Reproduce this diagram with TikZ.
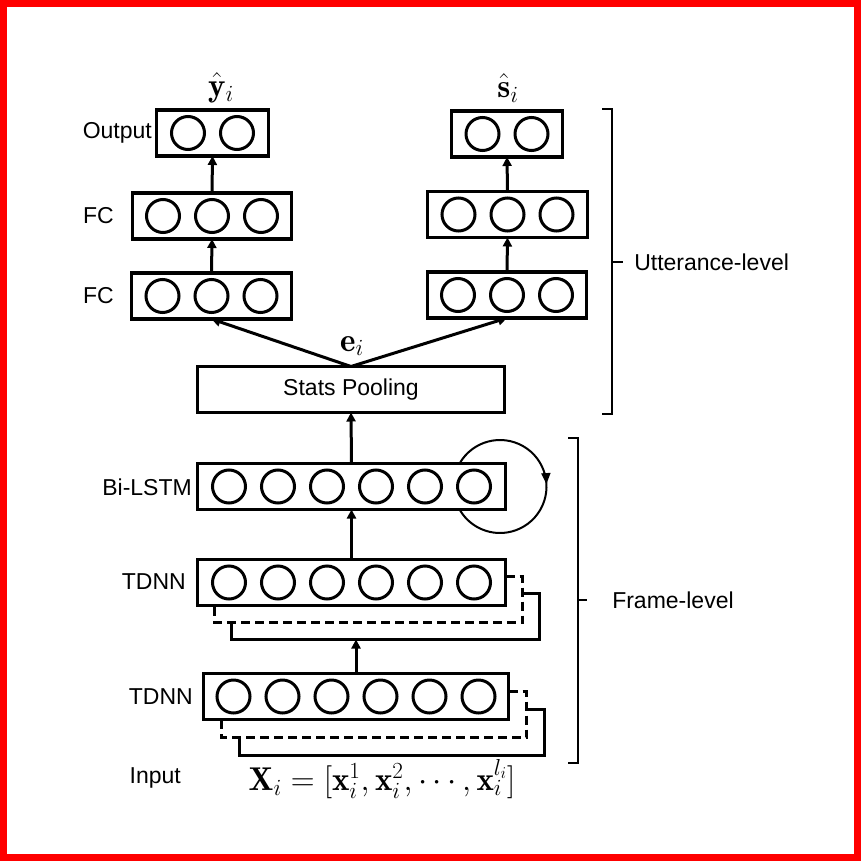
\RequirePackage{fix-cm}
\documentclass[tikz,border=0pt]{standalone}
\usepackage{fontspec}
\newfontfamily\labfont{Liberation Sans}
\usetikzlibrary{arrows.meta,calc,decorations.markings,backgrounds}
\begin{document}
\begin{tikzpicture}[x=1pt,y=-1pt,
  layer/.style={draw, line width=3.5pt, fill=white, inner sep=0pt, outer sep=0pt, minimum height=46pt},
  neuron/.style={circle, draw, line width=3pt, minimum size=33pt, inner sep=0pt},
  arr/.style={line width=3pt, -{Triangle[length=9pt,width=9pt]}},
  lab/.style={font=\labfont\fontsize{23}{26}\selectfont, inner sep=0pt},
  mathlab/.style={font=\fontsize{33}{37}\selectfont, inner sep=0pt},
  shadowdash/.style={line width=3.5pt, dash pattern=on 9pt off 5pt},
  shadowsolid/.style={line width=3.5pt},
  brace/.style={line width=2.5pt},
  loopline/.style={line width=2pt, postaction={decorate},
    decoration={markings, mark=at position 0.49 with {\arrow{Triangle[length=11pt,width=9pt]}}}},
]
\useasboundingbox (0,0) rectangle (861,861);
\draw[red, line width=7pt] (3.5,3.5) rectangle (857.5,857.5);

% utterance-level, left branch
\node[layer, minimum width=112pt] (outL) at (212.5,133) {};
\node[layer, minimum width=159pt] (fc1L) at (212,216) {};
\node[layer, minimum width=160pt] (fc2L) at (211.5,296) {};
% right branch
\node[layer, minimum width=111pt] (outR) at (507,134) {};
\node[layer, minimum width=160pt] (fc1R) at (507.5,214.5) {};
\node[layer, minimum width=159pt] (fc2R) at (507,295) {};

\foreach \b in {outL,outR}
  \foreach \k/\dx in {1/-24.5,2/24.5}
    \node[neuron] (\b n\k) at ($(\b.center)+(\dx,0)$) {};
\foreach \b in {fc1L,fc2L,fc1R,fc2R}
  \foreach \k/\dx in {1/-49,2/0,3/49}
    \node[neuron] (\b n\k) at ($(\b.center)+(\dx,0)$) {};

\node[layer, lab, minimum width=307pt] (stats) at (351,389.5) {Stats Pooling};

% frame-level
\node[layer, minimum width=308pt] (lstm) at (351.5,486.5) {};
\node[layer, minimum width=308pt] (t2) at (351.5,582.5) {};
\node[layer, minimum width=305pt] (t1) at (356,696.5) {};
\foreach \b in {lstm,t2,t1}
  \foreach \k/\dx in {1/-122.5,2/-73.5,3/-24.5,4/24.5,5/73.5,6/122.5}
    \node[neuron] (\b n\k) at ($(\b.center)+(\dx,0)$) {};

% recurrent loop
\begin{pgfonlayer}{background}
\draw[loopline] ($(lstm.east)+(-5.5,0)$) ++(210:46.5) arc[start angle=210, end angle=510, radius=46.5];
\end{pgfonlayer}

% stacked context shadows
\foreach \b/\d in {t2/17,t1/18}{
  \draw[shadowdash] ($(\b.north east)+(0,\d)$) -- ($(\b.north east)+(\d,\d)$)
     -- ($(\b.south east)+(\d,\d)$) -- ($(\b.south west)+(\d,\d)$) -- ($(\b.south west)+(\d,0)$);
  \draw[shadowsolid] ($(\b.north east)+(\d,2*\d)$) -- ($(\b.north east)+(2*\d,2*\d)$)
     -- ($(\b.south east)+(2*\d,2*\d)$) -- ($(\b.south west)+(2*\d,2*\d)$) -- ($(\b.south west)+(2*\d,\d)$);
}
\coordinate (t2bot) at ($(t2.south)+(0,34)$);

% arrows
\draw[arr] (fc1L.north) -- (outL.south);
\draw[arr] (fc2L.north) -- (fc1L.south);
\draw[arr] (fc1R.north) -- (outR.south);
\draw[arr] (fc2R.north) -- (fc1R.south);
\draw[arr] (stats.north) -- (fc2L.south);
\draw[arr] (stats.north) -- (fc2R.south);
\draw[arr] (lstm.north) -- (stats.south);
\draw[arr] (t2.north) -- (lstm.south);
\draw[arr] (t1.north) -- (t1.north |- t2bot);

% math labels
\node[mathlab] (yhat) at (221,88) {$\hat{\mathbf{y}}_i$};
\node[mathlab] (shat) at (508,88) {$\hat{\mathbf{s}}_i$};
\node[mathlab] (emb) at (352,346) {$\mathbf{e}_i$};
\node[mathlab] (inp) at (382,779) {$\mathbf{X}_i=[\mathbf{x}_i^1,\mathbf{x}_i^2,\cdots,\mathbf{x}_i^{l_i}]$};

% side labels
\node[lab, anchor=east] (lOut) at (152,133) {Output};
\node[lab, anchor=east] (lFC1) at (114,216) {FC};
\node[lab, anchor=east] (lFC2) at (114,296) {FC};
\node[lab, anchor=east] (lLSTM) at (192,487) {Bi-LSTM};
\node[lab, anchor=east] (lT2) at (186,582) {TDNN};
\node[lab, anchor=east] (lT1) at (193,697) {TDNN};
\node[lab, anchor=east] (lIn) at (181,778) {Input};

% braces
\draw[brace] (602,109) -- (612,109) -- (612,414) -- (602,414);
\draw[brace] (612,262) -- (623,262) node[lab, anchor=west, xshift=10pt] (utt) {Utterance-level};
\draw[brace] (568,438) -- (578,438) -- (578,763) -- (568,763);
\draw[brace] (578,600) -- (587,600) node[lab, anchor=west, xshift=24pt] (frm) {Frame-level};
\end{tikzpicture}
\end{document}
